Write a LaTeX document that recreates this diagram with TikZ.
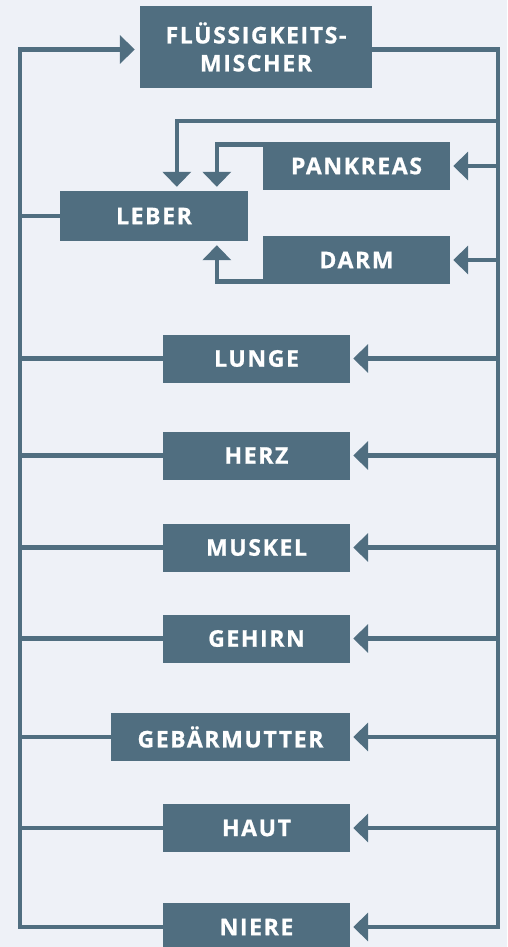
\documentclass[tikz,border=0pt]{standalone}
\usepackage{fontspec}
\usetikzlibrary{arrows.meta}
\newfontfamily\organfont[LetterSpace=7, FakeBold=0.8]{Open Sans Bold}
\definecolor{organblau}{RGB}{80,110,128}
\definecolor{grund}{RGB}{238,241,247}
\tikzset{
  >={Triangle[length=15pt, width=28pt]},
  organ/.style={fill=organblau, text=white, font=\organfont\fontsize{23}{28}\selectfont,
    inner sep=0pt, minimum width=187pt, minimum height=48pt, align=center},
  leitung/.style={draw=organblau, line width=4.5pt},
  zufluss/.style={leitung, ->, shorten >=3pt},
}
\begin{document}
\begin{tikzpicture}[x=1pt, y=-1pt]
  \fill[grund] (0,0) rectangle (507,947);
  \useasboundingbox (0,0) rectangle (507,947);
  % Organe
  \node[organ, minimum width=232pt, minimum height=82pt] (mischer) at (256,47) {FLÜSSIGKEITS-\\MISCHER};
  \node[organ, minimum width=188pt, minimum height=50pt] (leber) at (154,216) {LEBER};
  \node[organ] (pankreas) at (356.5,166) {PANKREAS};
  \node[organ] (darm) at (356.5,260) {DARM};
  \node[organ] (lunge) at (256.5,358.5) {LUNGE};
  \node[organ] (herz) at (256.5,455.5) {HERZ};
  \node[organ] (muskel) at (256.5,547.5) {MUSKEL};
  \node[organ] (gehirn) at (256.5,638.5) {GEHIRN};
  \node[organ, minimum width=239pt] (gebaermutter) at (230.5,737) {GEBÄRMUTTER};
  \node[organ] (haut) at (256.5,828) {HAUT};
  \node[organ] (niere) at (256.5,927) {NIERE};
  % Sammelleitungen
  \coordinate (links) at (20,927);
  \coordinate (rechts) at (498,927);
  \coordinate (abzweig) at (498,121);
  \draw[zufluss, shorten >=5pt] (niere.west) -- (links) |- ([yshift=-2.5pt]mischer.west);
  \draw[zufluss] ([yshift=-2.5pt]mischer.east) -| (rechts) -- (niere.east);
  \foreach \o in {pankreas,darm,lunge,herz,muskel,gehirn,gebaermutter,haut}
    \draw[zufluss] (\o.east -| rechts) -- (\o.east);
  \foreach \o in {leber,lunge,herz,muskel,gehirn,gebaermutter,haut}
    \draw[leitung] (\o.west) -- (\o.west -| links);
  % Pfortader zur Leber
  \draw[leitung, ->, shorten >=4pt] (abzweig) -| ([xshift=117pt]leber.north west);
  \draw[leitung, ->, shorten >=4pt] ([yshift=-2.5pt]pankreas.north west) -| ([xshift=157pt]leber.north west);
  \draw[leitung, ->, shorten >=4pt] ([yshift=2.5pt]darm.south west) -| ([xshift=157pt]leber.south west);
\end{tikzpicture}
\end{document}
